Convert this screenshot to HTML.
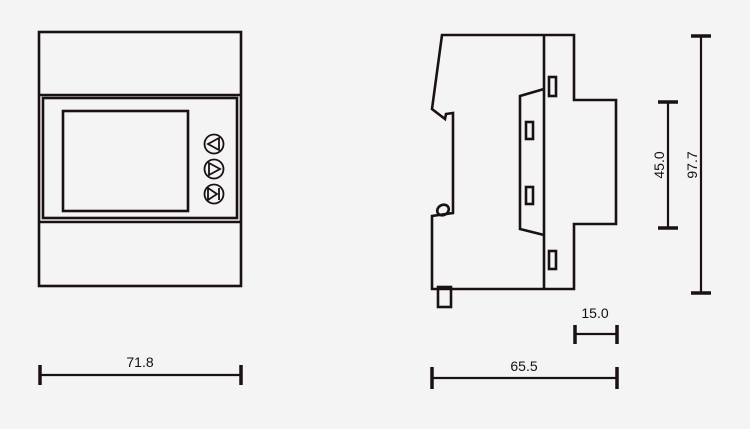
<!DOCTYPE html>
<html><head><meta charset="utf-8"><style>
html,body{margin:0;padding:0;background:#f4f4f4;}
svg{display:block}
text{font-family:"Liberation Sans",sans-serif;font-size:14px;fill:#111}
</style></head><body>
<svg width="750" height="429" viewBox="0 0 750 429" xmlns="http://www.w3.org/2000/svg">
<rect width="750" height="429" fill="#f4f4f4"/>
<g fill="none" stroke="#1a1212" stroke-width="2.6">
<rect x="39" y="32" width="202" height="254"/>
<line x1="39" y1="95" x2="241" y2="95"/>
<line x1="39" y1="222" x2="241" y2="222"/>
<rect x="43" y="98" width="194" height="120"/>
<rect x="63" y="111" width="125" height="100"/>
<circle cx="214" cy="144" r="9.5" stroke-width="1.8"/>
<circle cx="214" cy="169" r="9.5" stroke-width="1.8"/>
<circle cx="214" cy="194" r="9.5" stroke-width="1.8"/>
<path d="M219 138 L208 144 L219 150 Z" stroke-width="1.8"/>
<path d="M209 163 L220 169 L209 175 Z" stroke-width="1.8"/>
<path d="M208 188 L217 194 L208 200 Z M219 188 L219 200" stroke-width="1.8"/>
<path d="M442 35 L574 35 L574 100 L616 100 L616 224 L574 224 L574 289 L432 289 L432 216 L453 213 L453 113 L446 114 L445 119 L432 109 Z"/>
<line x1="544" y1="35" x2="544" y2="289"/>
<path d="M544 89 L520 96 L520 229 L544 235"/>
<ellipse cx="443" cy="210" rx="6" ry="5" transform="rotate(-30 443 210)"/>
<rect x="549" y="77" width="7" height="19"/>
<rect x="526" y="122" width="7" height="17"/>
<rect x="526" y="187" width="7" height="17"/>
<rect x="549" y="251" width="7" height="18"/>
<rect x="438" y="287" width="13" height="20"/>
</g>
<g stroke="#1a1212" fill="none">
<line x1="40" y1="375" x2="241" y2="375" stroke-width="2.2"/>
<line x1="40" y1="365" x2="40" y2="385" stroke-width="3.5"/>
<line x1="241" y1="365" x2="241" y2="385" stroke-width="3.5"/>
<line x1="432" y1="378" x2="617" y2="378" stroke-width="2.2"/>
<line x1="432" y1="367" x2="432" y2="389" stroke-width="3.5"/>
<line x1="617" y1="367" x2="617" y2="389" stroke-width="3.5"/>
<line x1="575" y1="334" x2="617" y2="334" stroke-width="2.2"/>
<line x1="575" y1="325" x2="575" y2="344" stroke-width="3.5"/>
<line x1="617" y1="325" x2="617" y2="344" stroke-width="3.5"/>
<line x1="668" y1="102" x2="668" y2="228" stroke-width="2.2"/>
<line x1="658" y1="102" x2="678" y2="102" stroke-width="3.5"/>
<line x1="658" y1="228" x2="678" y2="228" stroke-width="3.5"/>
<line x1="701" y1="36" x2="701" y2="293" stroke-width="2.2"/>
<line x1="691" y1="36" x2="711" y2="36" stroke-width="3.5"/>
<line x1="691" y1="293" x2="711" y2="293" stroke-width="3.5"/>
</g>
<text x="140" y="367" text-anchor="middle">71.8</text>
<text x="524" y="371" text-anchor="middle">65.5</text>
<text x="595" y="318" text-anchor="middle">15.0</text>
<text transform="translate(664,165) rotate(-90)" text-anchor="middle">45.0</text>
<text transform="translate(697,165) rotate(-90)" text-anchor="middle">97.7</text>
</svg>
</body></html>
